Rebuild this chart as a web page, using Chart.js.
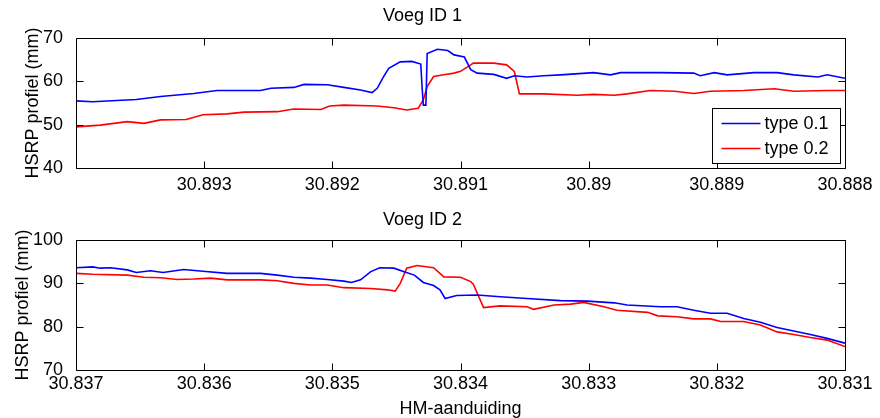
<!DOCTYPE html>
<html>
<head>
<meta charset="utf-8">
<script src="https://cdn.jsdelivr.net/npm/chart.js@4.4.1/dist/chart.umd.min.js"></script>
<style>
body{margin:0;background:#fff;width:880px;height:418px;overflow:hidden;position:relative}
canvas{position:absolute;left:0}
</style>
</head>
<body>
<canvas id="c1" width="880" height="205" style="top:0"></canvas>
<canvas id="c2" width="880" height="213" style="top:205px"></canvas>
<script>
// series names
var seriesNames=['type 0.1','type 0.2'];

// Voeg ID 1
var hm1Blue=[30.89400,30.89387,30.89353,30.89334,30.89308,30.89290,30.89256,30.89248,30.89230,30.89222,30.89204,30.89191,30.89178,30.89169,30.89165,30.89160,30.89156,30.89147,30.89138,30.89131,30.89130,30.89129,30.89127,30.89126,30.89118,30.89110,30.89105,30.89097,30.89092,30.89087,30.89074,30.89064,30.89058,30.89048,30.89035,30.89022,30.88996,30.88983,30.88975,30.88944,30.88918,30.88913,30.88902,30.88892,30.88871,30.88853,30.88840,30.88821,30.88814,30.88800];
var voeg1Blue=[55.5,55.3,55.8,56.5,57.2,57.9,57.9,58.4,58.6,59.3,59.2,58.6,58.0,57.4,58.4,61.1,63.0,64.5,64.6,64.0,58.8,54.5,54.5,66.4,67.4,67.1,66.1,65.6,62.7,61.9,61.6,60.7,61.3,61.0,61.3,61.5,62.0,61.5,62.0,62.0,61.9,61.3,62.0,61.5,62.0,62.0,61.5,61.0,61.5,60.7];
var hm1Red=[30.89400,30.89381,30.89360,30.89347,30.89334,30.89314,30.89301,30.89282,30.89269,30.89243,30.89230,30.89209,30.89202,30.89191,30.89165,30.89152,30.89142,30.89133,30.89129,30.89126,30.89121,30.89113,30.89105,30.89100,30.89092,30.89090,30.89074,30.89064,30.89058,30.89054,30.89035,30.89009,30.88996,30.88980,30.88970,30.88952,30.88933,30.88918,30.88905,30.88879,30.88855,30.88840,30.88814,30.88800];
var voeg1Red=[49.5,49.9,50.7,50.3,51.1,51.2,52.3,52.5,52.9,53.0,53.6,53.5,54.3,54.5,54.3,53.9,53.4,53.8,55.7,58.8,61.1,61.5,61.9,62.3,63.8,64.2,64.2,63.8,62.3,57.1,57.1,56.8,57.0,56.8,57.1,57.9,57.7,57.2,57.7,57.9,58.3,57.7,57.9,57.9];
var xTicks1=[30.893,30.892,30.891,30.890,30.889,30.888];
var yTicks1=[40,50,60,70];

// Voeg ID 2
var hm2Blue=[30.83700,30.83687,30.83681,30.83673,30.83660,30.83653,30.83642,30.83632,30.83616,30.83601,30.83582,30.83556,30.83543,30.83530,30.83517,30.83504,30.83491,30.83485,30.83478,30.83470,30.83463,30.83452,30.83444,30.83436,30.83429,30.83421,30.83416,30.83412,30.83403,30.83387,30.83369,30.83348,30.83322,30.83301,30.83280,30.83270,30.83244,30.83231,30.83218,30.83205,30.83192,30.83179,30.83166,30.83153,30.83140,30.83127,30.83114,30.83100];
var voeg2Blue=[93.6,93.8,93.5,93.6,93.1,92.5,92.9,92.5,93.2,92.8,92.3,92.3,91.9,91.4,91.2,90.9,90.5,90.2,90.8,92.7,93.6,93.5,92.7,91.9,90.2,89.5,88.5,86.5,87.2,87.3,86.9,86.5,86.0,85.9,85.5,85.0,84.6,84.6,83.8,83.1,83.1,81.9,81.0,79.8,79.0,78.2,77.3,76.2];
var hm2Red=[30.83700,30.83687,30.83660,30.83647,30.83634,30.83621,30.83608,30.83595,30.83582,30.83556,30.83543,30.83530,30.83517,30.83504,30.83491,30.83470,30.83457,30.83451,30.83447,30.83442,30.83434,30.83421,30.83413,30.83400,30.83392,30.83390,30.83382,30.83369,30.83348,30.83343,30.83327,30.83314,30.83304,30.83288,30.83278,30.83254,30.83246,30.83231,30.83218,30.83205,30.83197,30.83179,30.83166,30.83153,30.83140,30.83127,30.83114,30.83100];
var voeg2Red=[92.3,92.1,91.9,91.4,91.3,90.9,91.0,91.2,90.8,90.8,90.6,90.0,89.6,89.6,89.0,88.8,88.5,88.2,90.0,93.5,94.1,93.6,91.5,91.4,90.4,89.8,84.4,84.8,84.6,84.0,85.0,85.2,85.6,84.6,83.8,83.3,82.5,82.3,81.8,81.8,81.2,81.2,80.4,78.8,78.2,77.5,76.9,75.4];
var xTicks2=[30.837,30.836,30.835,30.834,30.833,30.832,30.831];
var yTicks2=[70,80,90,100];

var FONT='"Liberation Sans", Arial, sans-serif';
Chart.defaults.font.family=FONT;
Chart.defaults.font.size=18;
Chart.defaults.color='#000';

function pts(xs,ys){
    return xs.map(function(x,i){return {x:x,y:ys[i]};});
}

// MATLAB-like box, inward ticks and legend inside the axes
var matlabBox={
    id:'matlabBox',
    afterDraw:function(chart,args,opts){
        var a=chart.chartArea,ctx=chart.ctx;
        var sx=chart.scales.x,sy=chart.scales.y;
        var L=Math.round(a.left)+0.5,R=Math.round(a.right)+0.5,T=Math.round(a.top)+0.5,B=Math.round(a.bottom)+0.5;
        ctx.save();
        ctx.strokeStyle='#000';
        ctx.lineWidth=1;
        ctx.beginPath();
        ctx.rect(L,T,R-L,B-T);
        sx.ticks.forEach(function(t){
            var p=Math.round(sx.getPixelForValue(t.value))+0.5;
            ctx.moveTo(p,B);ctx.lineTo(p,B-7);
            ctx.moveTo(p,T);ctx.lineTo(p,T+7);
        });
        sy.ticks.forEach(function(t){
            var p=Math.round(sy.getPixelForValue(t.value))+0.5;
            ctx.moveTo(L,p);ctx.lineTo(L+7,p);
            ctx.moveTo(R,p);ctx.lineTo(R-7,p);
        });
        ctx.stroke();
        if(opts.legend){
            var bx=R-133,by=T+70,bw=128,bh=55;
            ctx.fillStyle='#fff';
            ctx.fillRect(bx,by,bw,bh);
            ctx.strokeRect(bx,by,bw,bh);
            ctx.font='18px '+FONT;
            ctx.textBaseline='middle';
            chart.data.datasets.forEach(function(ds,i){
                var yy=by+15+i*25;
                ctx.strokeStyle=ds.borderColor;
                ctx.lineWidth=1.5;
                ctx.beginPath();
                ctx.moveTo(bx+9,yy);ctx.lineTo(bx+48,yy);
                ctx.stroke();
                ctx.fillStyle='#000';
                ctx.fillText(ds.label,bx+52,yy+1);
            });
        }
        ctx.restore();
    }
};

function makeChart(id,title,blue,red,xmin,xmax,xTicks,yTicks,o){
    return new Chart(document.getElementById(id),{
        type:'line',
        data:{datasets:[
            {label:seriesNames[0],data:blue,borderColor:'#0000ff',borderWidth:1.6,pointRadius:0,tension:0},
            {label:seriesNames[1],data:red,borderColor:'#ff0000',borderWidth:1.6,pointRadius:0,tension:0}
        ]},
        options:{
            responsive:false,
            animation:false,
            layout:{padding:{left:0,right:35,top:0,bottom:0}},
            plugins:{
                legend:{display:false},
                tooltip:{enabled:false},
                title:{display:true,text:title,color:'#000',font:{size:18,weight:'normal'},padding:o.titlePad},
                matlabBox:{legend:o.legend}
            },
            scales:{
                x:{
                    type:'linear',reverse:true,min:xmin,max:xmax,
                    grid:{display:false},border:{display:false},
                    afterBuildTicks:function(s){s.ticks=xTicks.map(function(v){return {value:v};});},
                    afterFit:function(s){s.height=o.xHeight;},
                    ticks:{autoSkip:false,maxRotation:0,padding:o.xPad,color:'#000',
                        callback:function(v){return String(Number(Number(v).toFixed(3)));}},
                    title:{display:!!o.xTitle,text:o.xTitle||'',color:'#000',font:{size:18},padding:{top:0,bottom:-2}}
                },
                y:{
                    min:yTicks[0],max:yTicks[yTicks.length-1],
                    grid:{display:false},border:{display:false},
                    afterBuildTicks:function(s){s.ticks=yTicks.map(function(v){return {value:v};});},
                    afterFit:function(s){s.width=76;},
                    ticks:{padding:5,color:'#000'},
                    title:{display:true,text:'HSRP profiel (mm)',color:'#000',font:{size:18},padding:{top:o.yTitlePad,bottom:0}}
                }
            }
        },
        plugins:[matlabBox]
    });
}

makeChart('c1','Voeg ID 1',pts(hm1Blue,voeg1Blue),pts(hm1Red,voeg1Red),30.888,30.894,xTicks1,yTicks1,
    {titlePad:{top:5,bottom:11.4},xHeight:37,xPad:-2,yTitlePad:22,legend:true});
makeChart('c2','Voeg ID 2',pts(hm2Blue,voeg2Blue),pts(hm2Red,voeg2Red),30.831,30.837,xTicks2,yTicks2,
    {titlePad:{top:4,bottom:9.4},xHeight:48,xPad:-5,yTitlePad:12,xTitle:'HM-aanduiding',legend:false});
</script>
</body>
</html>
